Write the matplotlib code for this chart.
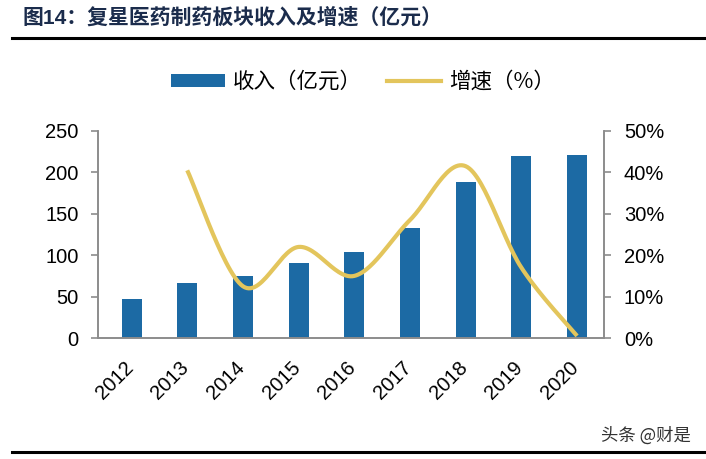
import numpy as np
import matplotlib
matplotlib.use("Agg")
import matplotlib.pyplot as plt
from matplotlib.lines import Line2D
from matplotlib.patches import Patch
from matplotlib.ticker import PercentFormatter
from matplotlib.transforms import ScaledTranslation

plt.rcParams['font.family'] = ['Liberation Sans', 'Noto Sans CJK SC', 'DejaVu Sans']

years = ['2012', '2013', '2014', '2015', '2016', '2017', '2018', '2019', '2020']
revenue = [47, 66, 75, 90, 104, 133, 188, 220, 221]
growth_years = ['2013', '2014', '2015', '2016', '2017', '2018', '2019', '2020']
growth = [40.5, 12.5, 22.0, 15.0, 28.5, 41.5, 17.0, 0.5]

title = '图14：复星医药制药板块收入及增速（亿元）'
bar_label = '收入（亿元）'
line_label = '增速（%）'
watermark = '头条 @财是'

BAR_COLOR = '#1c6aa4'
LINE_COLOR = '#e3c55c'
AXIS_COLOR = '#8c8c8c'


def smooth(xs, ys, n=30):
    # catmull-rom style smoothing, like the excel "smoothed line" option
    xs = np.asarray(xs, float)
    ys = np.asarray(ys, float)
    px = np.concatenate([[xs[0]], xs, [xs[-1]]])
    py = np.concatenate([[ys[0]], ys, [ys[-1]]])
    out_x, out_y = [], []
    for i in range(1, len(px) - 2):
        p0, p1, p2, p3 = [np.array([px[j], py[j]]) for j in (i - 1, i, i + 1, i + 2)]
        c1 = p1 + (p2 - p0) / 6
        c2 = p2 - (p3 - p1) / 6
        t = np.linspace(0, 1, n)[:, None]
        pts = (1 - t) ** 3 * p1 + 3 * (1 - t) ** 2 * t * c1 + 3 * (1 - t) * t ** 2 * c2 + t ** 3 * p2
        out_x.extend(pts[:, 0])
        out_y.extend(pts[:, 1])
    return out_x, out_y


fig = plt.figure(figsize=(7.06, 4.59), dpi=100)
ax = fig.add_axes([0.139, 0.2636, 0.717, 0.451])
ax2 = ax.twinx()

x = np.arange(len(years))
ax.bar(x, revenue, width=0.36, color=BAR_COLOR, zorder=2)

gx = [years.index(y) for y in growth_years]
sx, sy = smooth(gx, growth)
ax2.plot(sx, sy, color=LINE_COLOR, lw=3, solid_capstyle='butt', zorder=3)

ax.set_xlim(-0.6, 8.49)
ax.set_ylim(0, 250)
ax.set_yticks(range(0, 251, 50))
ax2.set_ylim(0, 50)
ax2.set_yticks(range(0, 51, 10))
ax2.yaxis.set_major_formatter(PercentFormatter(decimals=0))

ax.set_xticks(x)
ax.set_xticklabels(years, rotation=45, ha='right', rotation_mode='anchor')
ax.tick_params(axis='x', length=0, pad=14, labelsize=14.5)
shift = ScaledTranslation(-8 / 100, 0, fig.dpi_scale_trans)
for lbl in ax.get_xticklabels():
    lbl.set_transform(lbl.get_transform() + shift)
ax.tick_params(axis='y', length=5, width=1.2, color=AXIS_COLOR, pad=9, labelsize=14.5)
ax2.tick_params(axis='y', length=5, width=1.2, color=AXIS_COLOR, pad=9, labelsize=14.5)

for a in (ax, ax2):
    a.spines['top'].set_visible(False)
    for s in ('left', 'right', 'bottom'):
        a.spines[s].set_color(AXIS_COLOR)
        a.spines[s].set_linewidth(1.2)
ax.set_zorder(ax2.get_zorder() - 1)
ax2.patch.set_visible(False)

handles = [Patch(facecolor=BAR_COLOR, edgecolor='none'),
           Line2D([], [], color=LINE_COLOR, lw=3)]
fig.legend(handles, [bar_label, line_label], loc='center', ncol=2,
           bbox_to_anchor=(0.514, 1 - 82 / 459), frameon=False,
           prop={'family': ['Noto Sans CJK SC'], 'size': 15.5},
           handlelength=2.5, handleheight=0.55, handletextpad=0.35, columnspacing=1.2)

fig.text(22 / 706, 1 - 17 / 459, title, fontsize=15, fontweight='bold',
         color='#1b2c4c', va='center', ha='left')
fig.add_artist(Line2D([12 / 706, 1], [1 - 38 / 459] * 2, color='black', lw=2.2,
                      transform=fig.transFigure))
fig.add_artist(Line2D([12 / 706, 1], [1 - 452 / 459] * 2, color='black', lw=2.2,
                      transform=fig.transFigure))
fig.text(691 / 706, 1 - 436 / 459, watermark, fontsize=12.5, color='#333333',
         ha='right', va='center', family=['Noto Sans CJK SC'])

fig.savefig('out.png', dpi=100)
